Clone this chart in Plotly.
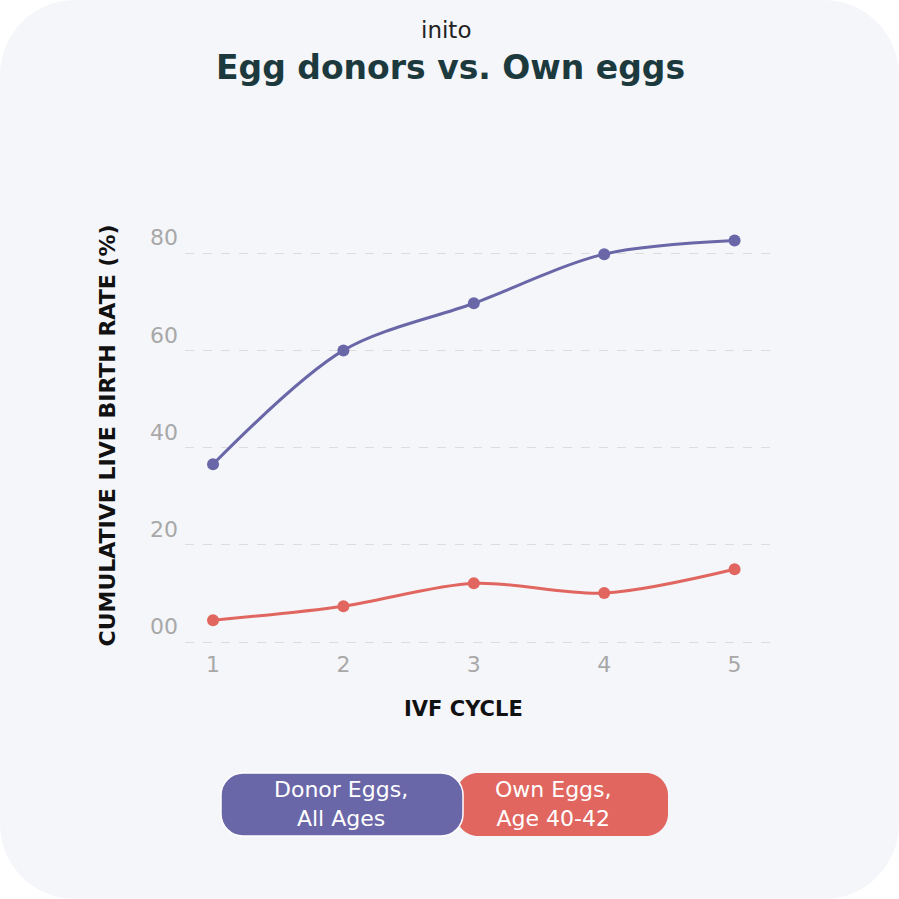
import plotly.graph_objects as go

cycles = [1, 2, 3, 4, 5]
donor_eggs = [36.6, 60.0, 69.7, 79.8, 82.6]
own_eggs = [4.5, 7.4, 12.1, 10.1, 15.0]
y_tick_vals = [0, 20, 40, 60, 80]
y_tick_text = ["00", "20", "40", "60", "80"]

W, H = 899, 899
L, R, T, B = 185, 124, 224, 252
PW, PH = W - L - R, H - T - B

def px(x):
    return (x - L) / PW

def py(y):
    return (H - B - y) / PH

def rrect(x0, y0, x1, y1, r):
    k = 0.45
    p = lambda x, y: f"{px(x):.5f},{py(y):.5f}"
    s = f"M {p(x0 + r, y0)} L {p(x1 - r, y0)} "
    s += f"C {p(x1 - r * k, y0)} {p(x1, y0 + r * k)} {p(x1, y0 + r)} "
    s += f"L {p(x1, y1 - r)} "
    s += f"C {p(x1, y1 - r * k)} {p(x1 - r * k, y1)} {p(x1 - r, y1)} "
    s += f"L {p(x0 + r, y1)} "
    s += f"C {p(x0 + r * k, y1)} {p(x0, y1 - r * k)} {p(x0, y1 - r)} "
    s += f"L {p(x0, y0 + r)} "
    s += f"C {p(x0, y0 + r * k)} {p(x0 + r * k, y0)} {p(x0 + r, y0)} Z"
    return s

PURPLE = "#6a67a8"
RED = "#e0665f"
FONT = "DejaVu Sans"

fig = go.Figure()
fig.add_trace(go.Scatter(x=cycles, y=donor_eggs, mode="lines+markers",
                         line=dict(color=PURPLE, width=3, shape="spline", smoothing=0.9),
                         marker=dict(color=PURPLE, size=12), name="Donor Eggs, All Ages",
                         cliponaxis=False))
fig.add_trace(go.Scatter(x=cycles, y=own_eggs, mode="lines+markers",
                         line=dict(color=RED, width=3, shape="spline", smoothing=0.9),
                         marker=dict(color=RED, size=12), name="Own Eggs, Age 40-42",
                         cliponaxis=False))

shapes = [
    dict(type="path", xref="paper", yref="paper", path=rrect(0, 0, W, H, 75),
         fillcolor="#f5f6fa", line=dict(width=0), layer="below"),
    dict(type="path", xref="paper", yref="paper", path=rrect(456, 773, 668, 836, 22),
         fillcolor=RED, line=dict(width=0), layer="above"),
    dict(type="path", xref="paper", yref="paper", path=rrect(221, 773, 463, 836, 22),
         fillcolor=PURPLE, line=dict(width=1.5, color="#ffffff"), layer="above"),
]

annotations = [
    dict(text="inito", x=px(446), y=py(30), xref="paper", yref="paper", showarrow=False,
         font=dict(family=FONT, size=23, color="#222222"), xanchor="center", yanchor="middle"),
    dict(text="<b>Egg donors vs. Own eggs</b>", x=px(450), y=py(67), xref="paper", yref="paper",
         showarrow=False, font=dict(family=FONT, size=33, color="#1c3a3d"),
         xanchor="center", yanchor="middle"),
    dict(text="<b>IVF CYCLE</b>", x=px(463), y=py(709), xref="paper", yref="paper",
         showarrow=False, font=dict(family=FONT, size=21, color="#111111"),
         xanchor="center", yanchor="middle"),
    dict(text="Donor Eggs,<br>All Ages", x=px(341), y=py(804), xref="paper", yref="paper",
         showarrow=False, font=dict(family=FONT, size=22, color="#ffffff"),
         xanchor="center", yanchor="middle"),
    dict(text="Own Eggs,<br>Age 40-42", x=px(553), y=py(804), xref="paper", yref="paper",
         showarrow=False, font=dict(family=FONT, size=22, color="#ffffff"),
         xanchor="center", yanchor="middle"),
]

fig.update_layout(
    width=W, height=H,
    margin=dict(l=L, r=R, t=T, b=B),
    paper_bgcolor="#ffffff", plot_bgcolor="rgba(0,0,0,0)",
    showlegend=False,
    shapes=shapes, annotations=annotations,
    font=dict(family=FONT),
    xaxis=dict(range=[0.785, 5.31], tickvals=cycles, ticktext=[str(c) for c in cycles],
               showgrid=False, zeroline=False, showline=False,
               tickfont=dict(size=22, color="#a8a8a8"), ticks="", ticklabelstandoff=2),
    yaxis=dict(range=[-1, 86], tickvals=y_tick_vals, ticktext=y_tick_text,
               showgrid=True, gridcolor="#dcdcdc", griddash="dash", gridwidth=1,
               zeroline=False, showline=False, ticks="",
               ticklabelposition="outside top", ticklabelstandoff=6,
               tickfont=dict(size=22, color="#a8a8a8"),
               title=dict(text="<b>CUMULATIVE LIVE BIRTH RATE (%)</b>",
                          font=dict(size=22, color="#111111"), standoff=28)),
)

fig.write_html("out.html", config={"displayModeBar": False},
               post_script="document.body.style.margin='0';")
